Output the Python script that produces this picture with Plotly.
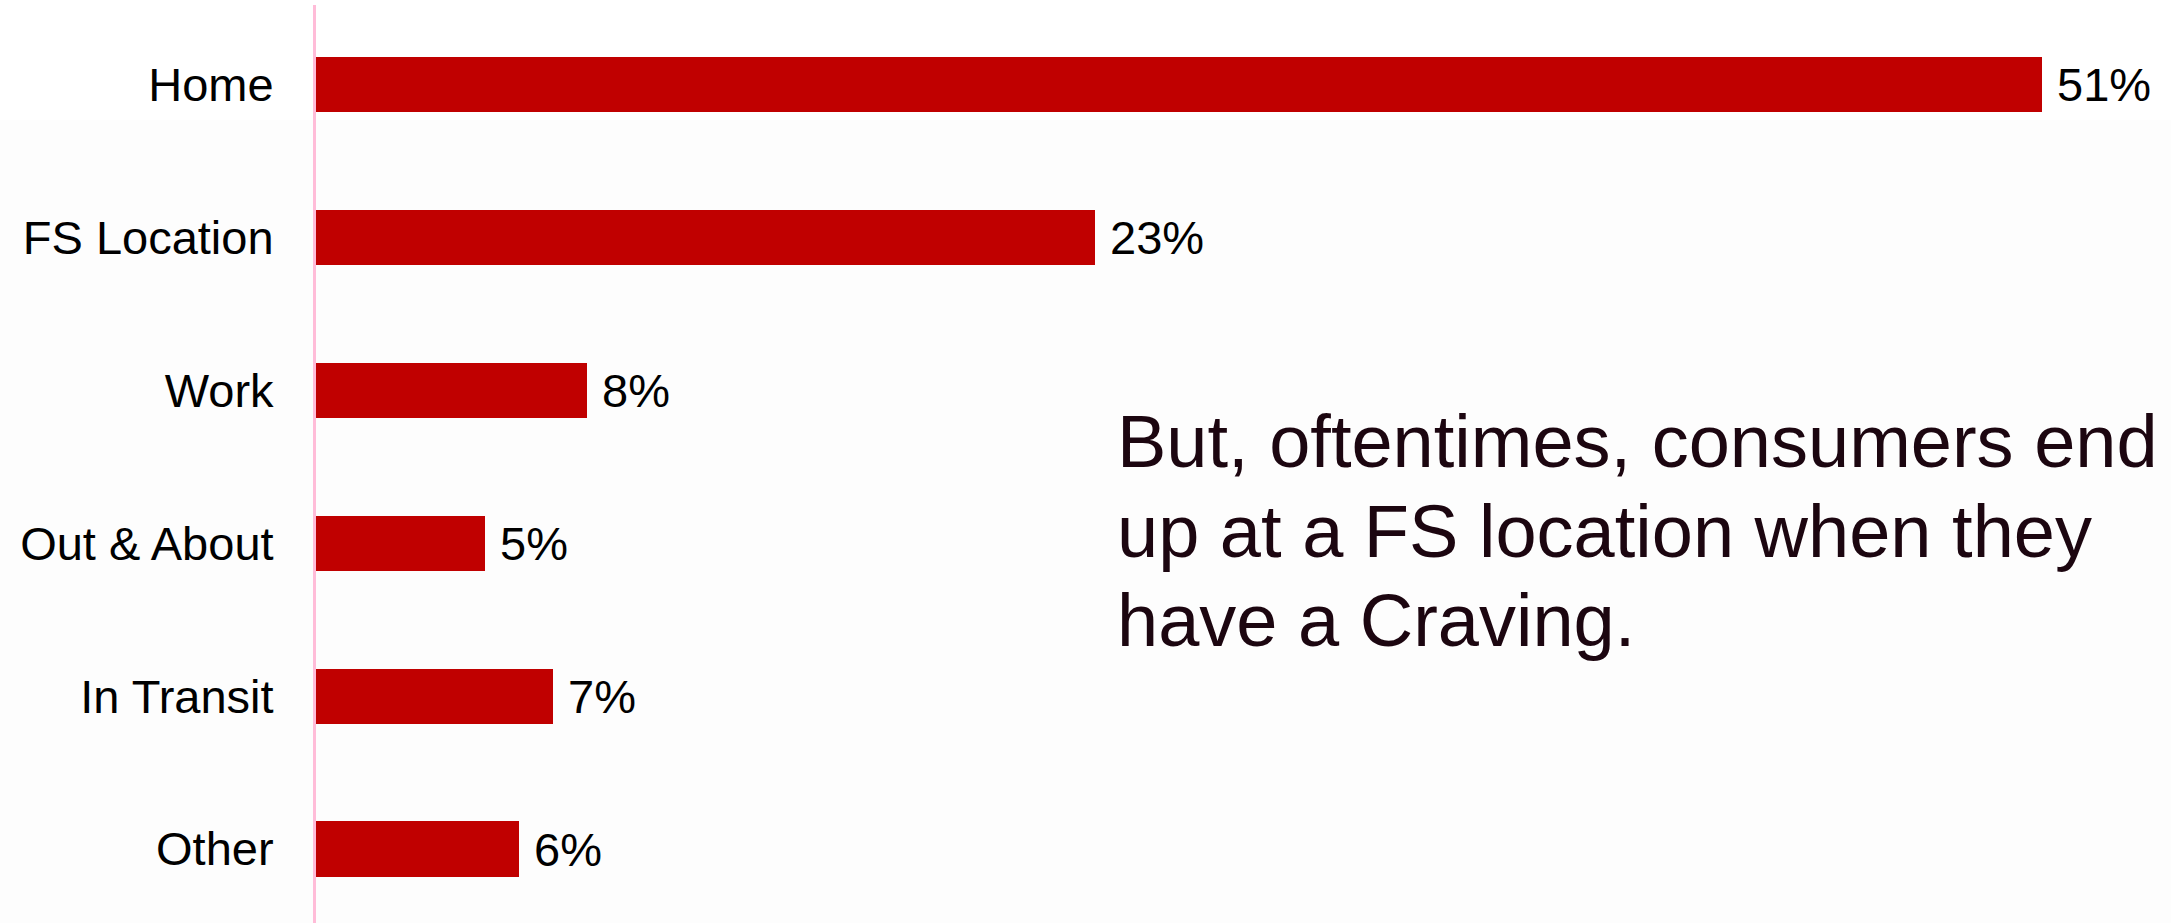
import plotly.graph_objects as go

# Where consumers are when a craving hits (% of responses)
locations = ["Home", "FS Location", "Work", "Out & About", "In Transit", "Other"]
shares = [51, 23, 8, 5, 7, 6]
share_labels = ["51%", "23%", "8%", "5%", "7%", "6%"]

callout_lines = [
    "But, oftentimes, consumers end",
    "up at a FS location when they",
    "have a Craving.",
]

FONT = "Arial"
BAR_RED = "#C00000"

fig = go.Figure()
fig.add_trace(
    go.Bar(
        x=shares,
        y=locations,
        orientation="h",
        width=0.36,
        marker=dict(color=BAR_RED, line=dict(width=0)),
        hoverinfo="skip",
    )
)

# value labels to the right of each bar
for loc, val, lab in zip(locations, shares, share_labels):
    fig.add_annotation(
        x=val, y=loc, xref="x", yref="y",
        text=lab, showarrow=False,
        xanchor="left", yanchor="middle", xshift=13,
        font=dict(family=FONT, size=47, color="#000000"),
    )

# callout text, one annotation per line
for line, ypos in zip(callout_lines, [0.525, 0.427, 0.329]):
    fig.add_annotation(
        x=0.4307, y=ypos, xref="paper", yref="paper",
        text=line, showarrow=False,
        xanchor="left", yanchor="middle",
        font=dict(family=FONT, size=74, color="#1c0610"),
    )

# white band across the top of the slide
fig.add_shape(
    type="rect", xref="paper", yref="paper",
    x0=-0.2, x1=1.01, y0=1 - 115 / 918, y1=1.01,
    fillcolor="#ffffff", line=dict(width=0), layer="below",
)

fig.update_layout(
    width=2171,
    height=923,
    margin=dict(l=316, r=0, t=5, b=0),
    paper_bgcolor="#fdfdfd",
    plot_bgcolor="rgba(0,0,0,0)",
    showlegend=False,
    bargap=0,
    font=dict(family=FONT, color="#000000"),
    xaxis=dict(
        range=[0, 54.8],
        showgrid=False, zeroline=False, showticklabels=False,
        showline=False, ticks="",
    ),
    yaxis=dict(
        type="category",
        categoryorder="array", categoryarray=locations,
        range=[5.484, -0.52],
        showgrid=False, zeroline=False,
        showline=True, linecolor="#ffbcd8", linewidth=3,
        ticks="", ticklabelstandoff=30,
        tickfont=dict(family=FONT, size=47, color="#000000"),
    ),
)

fig.write_html("out.html")
